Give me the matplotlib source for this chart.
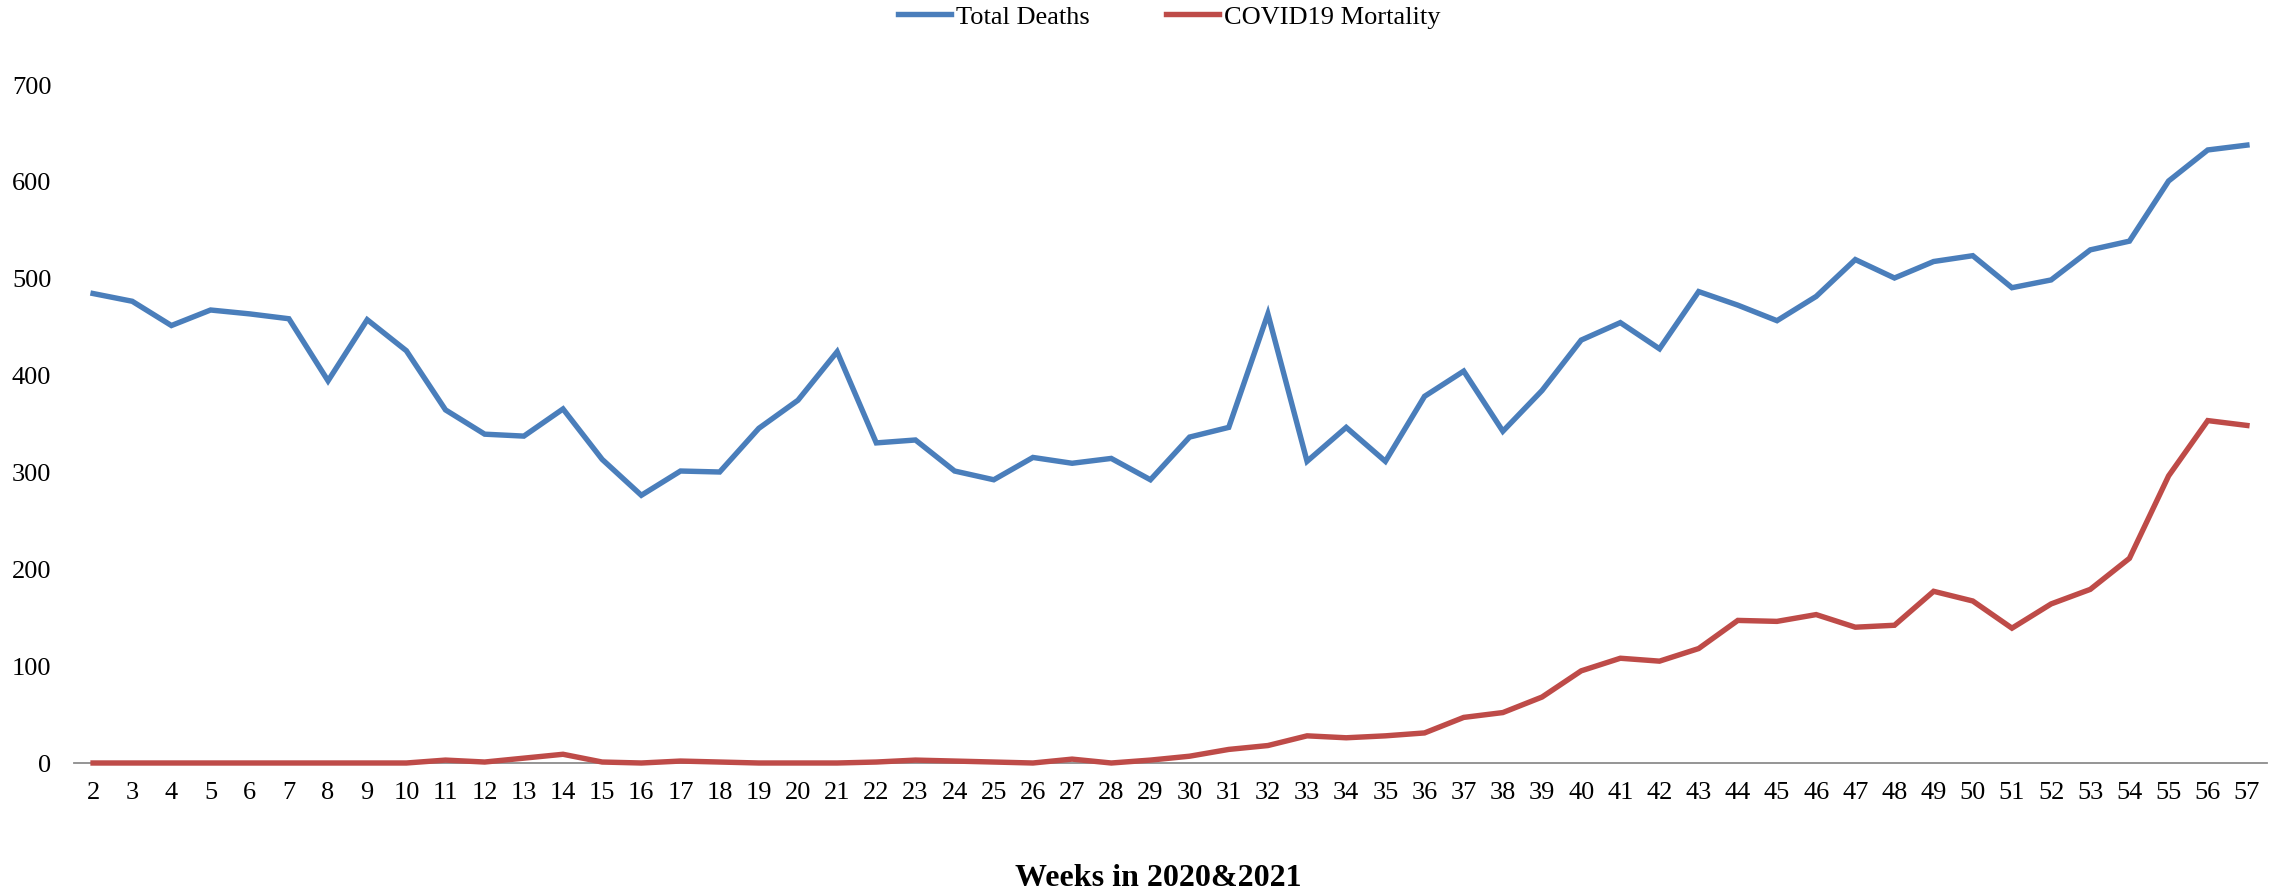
import matplotlib
matplotlib.use("Agg")
import matplotlib.pyplot as plt

# weekly counts
weeks = list(range(2, 58))
total_deaths = [484, 476, 451, 467, 463, 458, 394, 457, 425, 364,
                339, 337, 365, 313, 276, 301, 300, 345, 374, 424,
                330, 333, 301, 292, 315, 309, 314, 292, 336, 346,
                463, 311, 346, 311, 378, 404, 342, 384, 436, 454,
                427, 486, 472, 456, 481, 519, 500, 517, 523, 490,
                498, 529, 538, 600, 632, 637]
covid_mortality = [0, 0, 0, 0, 0, 0, 0, 0, 0, 3,
                   1, 5, 9, 1, 0, 2, 1, 0, 0, 0,
                   1, 3, 2, 1, 0, 4, 0, 3, 7, 14,
                   18, 28, 26, 28, 31, 47, 52, 68, 95, 108,
                   105, 118, 147, 146, 153, 140, 142, 177, 167, 139,
                   164, 179, 211, 296, 353, 348]
yticks = [0, 100, 200, 300, 400, 500, 600, 700]

BLUE = "#4A7EBB"
RED = "#BE4B48"

plt.rcParams['font.family'] = ['Liberation Serif', 'DejaVu Serif']

fig = plt.figure(figsize=(22.86, 8.95), dpi=100)
ax = fig.add_axes([73.5 / 2286, 1 - 764 / 895, (2266.5 - 73.5) / 2286, (764 - 85) / 895])

ax.plot(weeks, total_deaths, color=BLUE, lw=3.9, label="Total Deaths",
        solid_joinstyle="miter", clip_on=False)
ax.plot(weeks, covid_mortality, color=RED, lw=3.9, label="COVID19 Mortality",
        solid_joinstyle="miter", clip_on=False)

ax.set_xlim(1.5, 57.5)
ax.set_ylim(0, 700)
ax.set_xticks(weeks)
ax.set_xticklabels([str(w) for w in weeks])
ax.set_yticks(yticks)
ax.tick_params(axis="both", length=0, labelsize=19, colors="black")
ax.tick_params(axis="x", pad=13)
ax.tick_params(axis="y", pad=16)

for s in ["top", "right", "left"]:
    ax.spines[s].set_visible(False)
ax.spines["bottom"].set_color("#8C8C8C")
ax.spines["bottom"].set_linewidth(1.3)
ax.spines["bottom"].set_zorder(1)

fig.text(1158 / 2286, 1 - 879 / 895, "Weeks in 2020&2021",
         ha="center", va="center", fontsize=23, fontweight="bold")

fig.legend(loc="center", bbox_to_anchor=(1169.5 / 2286, 1 - 17 / 895), ncol=2,
           frameon=False, fontsize=19, handlelength=2.0, handletextpad=0.2,
           columnspacing=2.9, borderpad=0, borderaxespad=0)

fig.savefig("out.png", dpi=100)
